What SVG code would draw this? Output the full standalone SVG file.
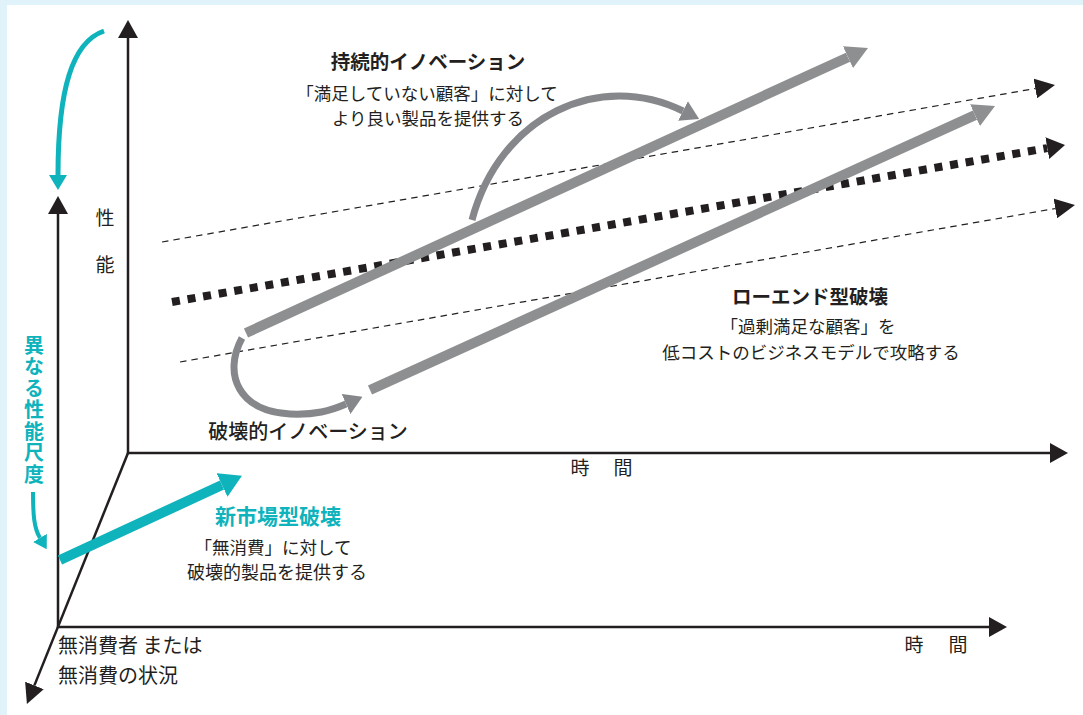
<svg xmlns="http://www.w3.org/2000/svg" width="1083" height="715" viewBox="0 0 1083 715">
<defs>
<style>
.ax{stroke:#231f20;stroke-width:2.5;fill:none}
.thin{stroke:#231f20;stroke-width:1.2;stroke-dasharray:6.5 5;fill:none}
.dot{stroke:#231f20;stroke-width:8;stroke-dasharray:8 7.8;fill:none}
.gbar{stroke:#8e8f91;stroke-width:10;fill:none}
.gcurve{stroke:#86878a;stroke-width:7;fill:none}
.cy{stroke:#0fb3bc;fill:none}
text{font-family:"Noto Sans CJK JP","Noto Sans",sans-serif;fill:#231f20}
.t{font-size:19.5px;font-weight:700}
.b{font-size:17.5px}
.c{fill:#0fb3bc;font-weight:700}
.v{writing-mode:vertical-rl;text-orientation:upright;letter-spacing:1.5px}
</style>
<marker id="mAx" markerUnits="userSpaceOnUse" markerWidth="18" markerHeight="20" viewBox="0 0 18 20" refX="0" refY="10" orient="auto"><path d="M0,0L18,10L0,20z" fill="#231f20"/></marker>
<marker id="mDash" markerUnits="userSpaceOnUse" markerWidth="20" markerHeight="20" viewBox="0 0 20 20" refX="0" refY="10" orient="auto"><path d="M0,0L20,10L0,20z" fill="#231f20"/></marker>
<marker id="mDot" markerUnits="userSpaceOnUse" markerWidth="18" markerHeight="22" viewBox="0 0 18 22" refX="0" refY="11" orient="auto"><path d="M0,0L18,11L0,22z" fill="#231f20"/></marker>
<marker id="mGray" markerUnits="userSpaceOnUse" markerWidth="22" markerHeight="24" viewBox="0 0 22 24" refX="0" refY="12" orient="auto"><path d="M0,0L22,12L0,24z" fill="#8e8f91"/></marker>
<marker id="mGrayC" markerUnits="userSpaceOnUse" markerWidth="18" markerHeight="22" viewBox="0 0 18 22" refX="0" refY="11" orient="auto"><path d="M0,0L18,11L0,22z" fill="#86878a"/></marker>
<marker id="mCyBig" markerUnits="userSpaceOnUse" markerWidth="22" markerHeight="26" viewBox="0 0 22 26" refX="0" refY="13" orient="auto"><path d="M0,0L22,13L0,26z" fill="#0fb3bc"/></marker>
<marker id="mCy" markerUnits="userSpaceOnUse" markerWidth="15" markerHeight="18" viewBox="0 0 15 18" refX="0" refY="9" orient="auto"><path d="M0,0L15,9L0,18z" fill="#0fb3bc"/></marker>
<marker id="mCySm" markerUnits="userSpaceOnUse" markerWidth="13" markerHeight="16" viewBox="0 0 13 16" refX="0" refY="8" orient="auto"><path d="M0,0L13,8L0,16z" fill="#0fb3bc"/></marker>
</defs>
<rect x="0" y="0" width="1083" height="715" fill="#e0f3fa"/>
<rect x="7" y="5" width="1080" height="715" fill="#ffffff"/>

<g id="axes">
<line class="ax" x1="128" y1="454" x2="128" y2="38" marker-end="url(#mAx)"/>
<line class="ax" x1="127" y1="453" x2="1050" y2="453" marker-end="url(#mAx)"/>
<line class="ax" x1="58" y1="628" x2="58" y2="214" marker-end="url(#mAx)"/>
<line class="ax" x1="57" y1="627" x2="989" y2="627" marker-end="url(#mAx)"/>
<line class="ax" x1="128" y1="453" x2="34.4" y2="685.4" marker-end="url(#mDash)"/>
</g>

<g id="connectors">
<line class="thin" x1="162" y1="242" x2="1035.3" y2="88.5" marker-end="url(#mDash)"/>
<line class="dot" x1="172" y1="302" x2="1047.3" y2="148.1" marker-end="url(#mDot)"/>
<line class="thin" x1="180" y1="362" x2="1055.3" y2="208.5" marker-end="url(#mDash)"/>
<line class="gbar" x1="246" y1="333" x2="848" y2="57.2" marker-end="url(#mGray)"/>
<line class="gbar" x1="370" y1="390" x2="975" y2="115.1" marker-end="url(#mGray)"/>
<path class="gcurve" d="M472,220 C500,115 600,70 683,111" marker-end="url(#mGrayC)"/>
<path class="gcurve" d="M242,338 C222,375 240,412 290,414 C315,415 330,411 346,404" marker-end="url(#mGrayC)"/>
<line class="cy" stroke-width="10" x1="60" y1="560" x2="222" y2="485" marker-end="url(#mCyBig)"/>
<path class="cy" stroke-width="5" d="M104,31 C72,42 58,90 58,175" marker-end="url(#mCy)"/>
<path class="cy" stroke-width="4" d="M33,492 C33,515 34,528 40,538" marker-end="url(#mCySm)"/>
</g>

<g id="sustaining">
<text class="t" x="428" y="69" text-anchor="middle">持続的イノベーション</text>
<text class="b" x="427" y="100" text-anchor="middle">「満足していない顧客」に対して</text>
<text class="b" x="428" y="125" text-anchor="middle">より良い製品を提供する</text>
</g>

<g id="lowend">
<text class="t" x="810" y="304" text-anchor="middle">ローエンド型破壊</text>
<text class="b" x="808" y="333" text-anchor="middle">「過剰満足な顧客」を</text>
<text class="b" x="811" y="359" text-anchor="middle">低コストのビジネスモデルで攻略する</text>
</g>

<g id="disruptive">
<text x="308" y="439" text-anchor="middle" font-size="20" font-weight="500">破壊的イノベーション</text>
</g>

<g id="newmarket">
<text class="c" x="278" y="524" text-anchor="middle" font-size="21">新市場型破壊</text>
<text class="b" x="273" y="554" text-anchor="middle">「無消費」に対して</text>
<text x="277" y="579" text-anchor="middle" font-size="18">破壊的製品を提供する</text>
</g>

<g id="axis-labels">
<text x="105" y="225" text-anchor="middle" font-size="19">性</text>
<text x="105" y="272" text-anchor="middle" font-size="19">能</text>
<text x="580" y="475" text-anchor="middle" font-size="19">時</text>
<text x="623" y="475" text-anchor="middle" font-size="19">間</text>
<text x="914" y="652" text-anchor="middle" font-size="19">時</text>
<text x="958" y="652" text-anchor="middle" font-size="19">間</text>
<text x="58" y="653" font-size="20">無消費者 または</text>
<text x="58" y="683" font-size="20">無消費の状況</text>
</g>

<g id="measure">
<text class="c v" x="34" y="335" font-size="20">異なる性能尺度</text>
</g>
</svg>
